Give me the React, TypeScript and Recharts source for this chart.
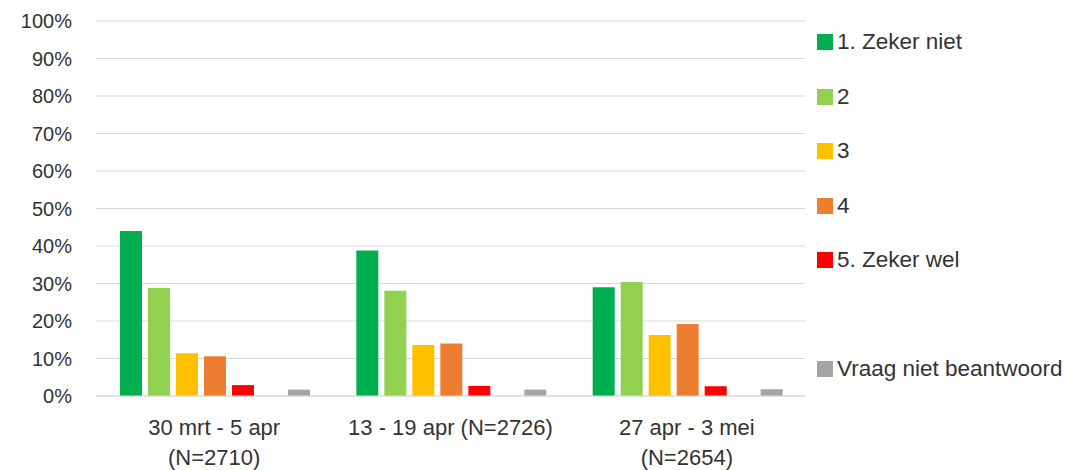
import { Bar, BarChart, CartesianGrid, XAxis, YAxis } from "recharts";

const periods = ["30 mrt - 5 apr\n(N=2710)", "13 - 19 apr (N=2726)", "27 apr - 3 mei\n(N=2654)"];

const zekerNiet = [44.0, 38.8, 29.0];
const twee = [28.8, 28.1, 30.4];
const drie = [11.4, 13.6, 16.3];
const vier = [10.6, 14.0, 19.2];
const zekerWel = [2.9, 2.7, 2.6];
const leeg = [0, 0, 0];
const nietBeantwoord = [1.7, 1.7, 1.8];

const yTicks = [0, 10, 20, 30, 40, 50, 60, 70, 80, 90, 100];

const SERIES = [
  { key: "s1", label: "1. Zeker niet", color: "#00b050", values: zekerNiet },
  { key: "s2", label: "2", color: "#92d050", values: twee },
  { key: "s3", label: "3", color: "#ffc000", values: drie },
  { key: "s4", label: "4", color: "#ed7d31", values: vier },
  { key: "s5", label: "5. Zeker wel", color: "#ff0000", values: zekerWel },
  { key: "s6", label: "", color: "transparent", values: leeg },
  { key: "s7", label: "Vraag niet beantwoord", color: "#a5a5a5", values: nietBeantwoord }
];

const data = periods.map((p, i) => {
  const row: Record<string, string | number> = { period: p };
  for (const s of SERIES) row[s.key] = s.values[i];
  return row;
});

const FONT = "'Liberation Sans', Arial, sans-serif";
const TEXT = "#333333";

function PeriodTick(props: any) {
  const { x, y, payload } = props;
  const lines: string[] = String(payload.value).split("\n");
  return (
    <g>
      {lines.map((line, i) => (
        <text
          key={i}
          x={x}
          y={y + 33 + i * 30}
          textAnchor="middle"
          fill={TEXT}
          fontSize={22}
          fontFamily={FONT}
        >
          {line}
        </text>
      ))}
    </g>
  );
}

export default function App() {
  return (
    <div style={{ position: "absolute", left: 0, top: 0, width: 1071, height: 470, background: "#fff" }}>
      <BarChart
        width={1071}
        height={470}
        data={data}
        margin={{ top: 21, right: 266, left: 0, bottom: 0 }}
        barCategoryGap={24}
        barGap={6}
      >
        <CartesianGrid vertical={false} stroke="#d9d9d9" />
        <XAxis
          dataKey="period"
          height={74}
          stroke="#d9d9d9"
          tickLine={false}
          tickMargin={0}
          interval={0}
          tick={<PeriodTick />}
        />
        <YAxis
          width={96}
          domain={[0, 100]}
          ticks={yTicks}
          axisLine={false}
          tickLine={false}
          tickMargin={18}
          tickFormatter={(v: number) => `${v}%`}
          tick={{ fill: TEXT, fontSize: 20, fontFamily: FONT }}
        />
        {SERIES.map((s) => (
          <Bar key={s.key} dataKey={s.key} name={s.label} fill={s.color} isAnimationActive={false} />
        ))}
      </BarChart>
      <div style={{ position: "absolute", left: 817, top: 15, fontFamily: FONT, fontSize: 22.5, color: TEXT }}>
        {SERIES.map((s) => (
          <div key={s.key} style={{ height: 54.5, display: "flex", alignItems: "center" }}>
            {s.label ? (
              <>
                <span style={{ width: 16, height: 16, background: s.color, display: "inline-block", marginRight: 4 }} />
                <span style={{ whiteSpace: "nowrap" }}>{s.label}</span>
              </>
            ) : null}
          </div>
        ))}
      </div>
    </div>
  );
}
